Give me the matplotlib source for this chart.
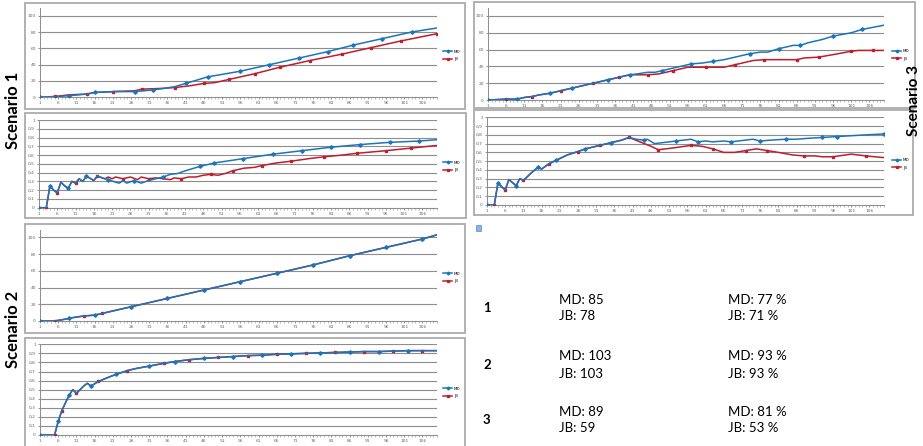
import matplotlib
matplotlib.use('Agg')
import matplotlib.pyplot as plt
from matplotlib.patches import Rectangle

W, H = 923, 446
BLUE = '#1B75BB'
RED = '#BE1E2D'
GRID = '#8C8C8C'

# --- data ----------------------------------------------------------------
# Scenario 1, cumulative
s1_md_x = [1, 6, 9, 14, 16, 22, 27, 32, 35, 38, 41, 47, 56, 64, 72, 80, 87, 95, 103, 110]
s1_md_y = [0, 1, 2, 4, 6, 7, 7, 9, 11, 13, 17, 25, 32, 40, 48, 56, 64, 72, 80, 85]
s1_jb_x = [1, 5, 9, 14, 16, 21, 27, 29, 35, 38, 42, 46, 49, 53, 57, 60, 67, 75, 84, 92, 100, 110]
s1_jb_y = [0, 1, 3, 4, 6, 7, 8, 10, 11, 12, 14, 17, 18, 22, 26, 29, 37, 45, 53, 61, 69, 78]

# Scenario 1, ratio
s1r_md_x = [1, 3, 4, 5, 6, 7, 8, 9, 10, 11, 12, 13, 14, 16, 17, 19, 20, 22, 23, 24, 25, 27,
            29, 31, 33, 35, 37, 39, 41, 45, 49, 57, 65, 73, 81, 89, 97, 105, 110]
s1r_md_y = [0, 0, 0.25, 0.2, 0.17, 0.29, 0.25, 0.22, 0.3, 0.28, 0.33, 0.3, 0.36, 0.31, 0.36,
            0.33, 0.32, 0.29, 0.28, 0.31, 0.28, 0.31, 0.28, 0.31, 0.33, 0.35, 0.38, 0.39, 0.42,
            0.47, 0.51, 0.56, 0.61, 0.65, 0.69, 0.72, 0.745, 0.76, 0.775]
s1r_jb_x = [1, 3, 4, 5, 6, 7, 8, 9, 10, 11, 12, 13, 14, 16, 17, 19, 20, 21, 22, 24, 26, 28,
            29, 31, 33, 35, 37, 38, 40, 42, 44, 46, 48, 50, 52, 54, 57, 60, 62, 66, 70, 75,
            79, 84, 88, 96, 103, 110]
s1r_jb_y = [0, 0, 0.25, 0.2, 0.17, 0.29, 0.25, 0.22, 0.3, 0.28, 0.33, 0.3, 0.36, 0.31, 0.36,
            0.33, 0.35, 0.33, 0.35, 0.33, 0.35, 0.32, 0.35, 0.33, 0.34, 0.33, 0.32, 0.34, 0.33,
            0.35, 0.35, 0.37, 0.38, 0.37, 0.39, 0.42, 0.45, 0.46, 0.48, 0.51, 0.53, 0.56, 0.58,
            0.6, 0.62, 0.65, 0.68, 0.71]

# Scenario 2, cumulative
s2_md_x = [1, 5, 9, 10, 13, 16, 18, 26, 36, 46, 56, 66, 76, 86, 96, 106, 110]
s2_md_y = [0, 0, 3, 4, 6, 7, 9, 17, 27, 37, 47, 57, 67, 78, 88, 98, 103]
s2_jb_x = [1, 5, 9, 10, 13, 16, 18, 26, 36, 46, 56, 66, 76, 86, 96, 106, 110]
s2_jb_y = [0, 0, 3, 4, 6, 7, 9, 17, 27, 37, 47, 57, 67, 78, 88, 98, 103]

# Scenario 2, ratio
s2r_md_x = [1, 5, 6, 7, 9, 10, 11, 13, 14, 15, 17, 20, 22, 25, 27, 31, 35, 38, 42, 46, 50,
            54, 58, 62, 66, 70, 74, 78, 82, 86, 90, 94, 98, 102, 106, 110]
s2r_md_y = [0, 0, 0.15, 0.27, 0.44, 0.5, 0.46, 0.54, 0.57, 0.54, 0.59, 0.64, 0.67, 0.71, 0.73,
            0.76, 0.79, 0.81, 0.83, 0.845, 0.855, 0.865, 0.875, 0.88, 0.89, 0.895, 0.9, 0.905,
            0.91, 0.915, 0.92, 0.92, 0.925, 0.93, 0.93, 0.93]
s2r_jb_x = s2r_md_x
s2r_jb_y = [0, 0, 0.15, 0.27, 0.44, 0.5, 0.46, 0.54, 0.57, 0.54, 0.59, 0.64, 0.67, 0.71, 0.73,
            0.76, 0.79, 0.81, 0.83, 0.845, 0.855, 0.865, 0.875, 0.88, 0.89, 0.895, 0.9, 0.905,
            0.91, 0.915, 0.92, 0.92, 0.925, 0.93, 0.93, 0.93]

# Scenario 3, cumulative
s3_md_x = [1, 6, 9, 11, 13, 15, 18, 21, 24, 27, 30, 34, 37, 40, 42, 45, 47, 49, 53, 57, 60,
           63, 66, 70, 73, 76, 78, 81, 85, 87, 89, 93, 96, 101, 104, 110]
s3_md_y = [0, 1, 1, 3, 4, 6, 8, 11, 14, 17, 20, 24, 27, 30, 31, 33, 33, 35, 39, 43, 44, 46,
           48, 52, 55, 57, 57, 61, 65, 65, 68, 72, 76, 80, 84, 89]
s3_jb_x = [1, 6, 9, 11, 13, 15, 18, 21, 24, 27, 30, 34, 37, 40, 45, 48, 52, 56, 61, 66, 69,
           74, 77, 81, 86, 88, 92, 96, 101, 103, 107, 110]
s3_jb_y = [0, 1, 1, 3, 4, 6, 8, 11, 14, 17, 20, 24, 27, 30, 30, 31, 35, 39, 39, 39, 42, 47,
           48, 48, 48, 50, 51, 54, 58, 59, 59, 59]

# Scenario 3, ratio
s3r_md_x = [1, 3, 4, 6, 7, 9, 10, 11, 13, 15, 16, 18, 20, 23, 26, 28, 32, 35, 38, 40, 42, 44,
            45, 47, 49, 53, 57, 59, 61, 63, 66, 68, 72, 74, 76, 79, 83, 86, 89, 93, 97, 105, 110]
s3r_md_y = [0, 0, 0.25, 0.17, 0.29, 0.22, 0.3, 0.28, 0.36, 0.43, 0.41, 0.47, 0.51, 0.57, 0.61,
            0.64, 0.68, 0.71, 0.74, 0.77, 0.75, 0.74, 0.75, 0.7, 0.71, 0.73, 0.75, 0.72, 0.73,
            0.72, 0.73, 0.72, 0.74, 0.75, 0.73, 0.74, 0.75, 0.75, 0.76, 0.77, 0.78, 0.8, 0.81]
s3r_jb_x = [1, 3, 4, 6, 7, 9, 10, 11, 13, 15, 16, 18, 20, 23, 26, 28, 32, 35, 38, 40, 43, 46,
            48, 52, 57, 60, 63, 66, 69, 72, 75, 78, 81, 85, 88, 91, 93, 96, 101, 105, 110]
s3r_jb_y = [0, 0, 0.25, 0.17, 0.29, 0.22, 0.3, 0.28, 0.36, 0.43, 0.41, 0.47, 0.51, 0.57, 0.61,
            0.64, 0.68, 0.71, 0.74, 0.77, 0.72, 0.67, 0.63, 0.65, 0.68, 0.67, 0.64, 0.6, 0.6,
            0.62, 0.64, 0.62, 0.6, 0.57, 0.56, 0.56, 0.55, 0.55, 0.58, 0.56, 0.54]

x_ticks = list(range(1, 107, 5))
count_ticks = [0, 20, 40, 60, 80, 100]
ratio_ticks = [0, 0.1, 0.2, 0.3, 0.4, 0.5, 0.6, 0.7, 0.8, 0.9, 1]
ratio_labels = ['0', '0,1', '0,2', '0,3', '0,4', '0,5', '0,6', '0,7', '0,8', '0,9', '1']

table_rows = ['1', '2', '3']
table_counts = [('MD: 85', 'JB: 78'), ('MD: 103', 'JB: 103'), ('MD: 89', 'JB: 59')]
table_pcts = [('MD: 77 %', 'JB: 71 %'), ('MD: 93 %', 'JB: 93 %'), ('MD: 81 %', 'JB: 53 %')]


fig = plt.figure(figsize=(W / 100, H / 100), dpi=100)
fig.patch.set_facecolor('white')


def box(x0, y0, x1, y1, **kw):
    fig.patches.append(Rectangle((x0 / W, 1 - y1 / H), (x1 - x0) / W, (y1 - y0) / H,
                                 transform=fig.transFigure, **kw))


def panel(frame, area, md, jb, ratio, leg_xy):
    box(*frame, fill=False, edgecolor='#ABABAB', lw=1.3)
    l, t, r, b = area
    ax = fig.add_axes([l / W, 1 - b / H, (r - l) / W, (b - t) / H])
    ax.plot(jb[0], jb[1], color=RED, lw=1.1, marker='s', ms=1.7,
            markevery=(0.035, 0.072), label='JB', zorder=3)
    ax.plot(md[0], md[1], color=BLUE, lw=1.1, marker='D', ms=1.8,
            markevery=(0.0, 0.072), label='MD', zorder=4)
    ax.set_xlim(1, 110)
    if ratio:
        ax.set_ylim(0, 1)
        ax.set_yticks(ratio_ticks)
        ax.set_yticklabels(ratio_labels)
    else:
        ax.set_ylim(0, 109)
        ax.set_yticks(count_ticks)
        ax.set_yticklabels([str(v) for v in count_ticks])
    ax.set_xticks(x_ticks)
    ax.set_xticklabels([str(v) for v in x_ticks])
    ax.set_xticks(range(1, 111), minor=True)
    ax.grid(axis='y', color=GRID, lw=0.8)
    ax.set_axisbelow(True)
    for s in ['top', 'right']:
        ax.spines[s].set_visible(False)
    for s in ['left', 'bottom']:
        ax.spines[s].set_color(GRID)
        ax.spines[s].set_linewidth(0.7)
    ax.tick_params(labelsize=3.2, colors='#666666', length=1.5, width=0.5, pad=1.5)
    ax.tick_params(axis='x', which='minor', length=1.2, width=0.4, colors='#888888')
    ax.set_facecolor('none')
    h, lb = ax.get_legend_handles_labels()
    ax.legend(h[::-1], lb[::-1], loc='center left',
              bbox_to_anchor=(leg_xy[0] / W, 1 - leg_xy[1] / H),
              bbox_transform=fig.transFigure, fontsize=3, frameon=False,
              handlelength=2.2, labelspacing=0.9, handletextpad=0.4,
              borderpad=0, borderaxespad=0, markerscale=0.8)
    return ax


panel((25, 3, 465, 109), (40, 8.4, 437, 97.3), (s1_md_x, s1_md_y), (s1_jb_x, s1_jb_y),
      False, (443, 55.5))
panel((25, 113, 466, 218), (39, 120, 437, 207.7), (s1r_md_x, s1r_md_y), (s1r_jb_x, s1r_jb_y),
      True, (443, 166.5))
panel((474, 2, 915, 108), (488, 8.4, 884, 100), (s3_md_x, s3_md_y), (s3_jb_x, s3_jb_y),
      False, (892, 55))
panel((474, 110, 913, 215), (487, 117.3, 884, 205), (s3r_md_x, s3r_md_y), (s3r_jb_x, s3r_jb_y),
      True, (892, 164))
panel((25, 224, 465, 333), (40, 229.8, 437, 321), (s2_md_x, s2_md_y), (s2_jb_x, s2_jb_y),
      False, (443, 277.5))
panel((25, 338, 465, 450), (40, 344.3, 437, 435), (s2r_md_x, s2r_md_y), (s2r_jb_x, s2r_jb_y),
      True, (443, 392.5))

# scenario labels
lab = dict(rotation=90, ha='center', va='center', fontweight='bold',
           family=['Lato', 'DejaVu Sans'], color='black')
fig.text(13 / W, 1 - 110 / H, 'Scenario 1', fontsize=12, **lab)
fig.text(13 / W, 1 - 329 / H, 'Scenario 2', fontsize=12, **lab)
fig.text(914 / W, 1 - 100 / H, 'Scenario 3', fontsize=11, **lab)

# little paste icon
box(476, 225, 481, 231, facecolor='#8FB4E3', edgecolor='#5B8BC9', lw=0.5)

# summary table
txt = dict(fontsize=9.5, family=['Lato', 'DejaVu Sans'], va='center', ha='left')
row_y = [308, 365, 420]
for i, row in enumerate(table_rows):
    y = row_y[i]
    fig.text(483 / W, 1 - y / H, row, fontweight='bold', **txt)
    fig.text(559 / W, 1 - (y - 8.5) / H, table_counts[i][0], **txt)
    fig.text(559 / W, 1 - (y + 8.5) / H, table_counts[i][1], **txt)
    fig.text(728 / W, 1 - (y - 8.5) / H, table_pcts[i][0], **txt)
    fig.text(728 / W, 1 - (y + 8.5) / H, table_pcts[i][1], **txt)

fig.savefig('out.png', dpi=100)
